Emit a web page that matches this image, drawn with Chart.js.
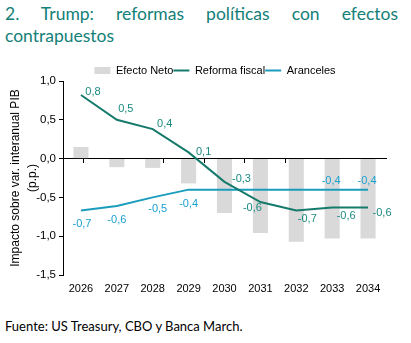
<!DOCTYPE html>
<html>
<head>
<meta charset="utf-8">
<script src="https://cdn.jsdelivr.net/npm/chart.js@4.4.1/dist/chart.umd.min.js"></script>
<style>
    body { margin: 0; width: 411px; height: 343px; background: #fff; position: relative; overflow: hidden; }
    #title { position: absolute; left: 5px; top: 3px; width: 393px; font-family: Lato, sans-serif; font-size: 17.5px; line-height: 22px; color: #138079; text-align: justify; }
    #chartBox { position: absolute; left: 0; top: 60px; width: 411px; height: 245px; }
    #source { position: absolute; left: 5px; top: 318px; font-family: Lato, sans-serif; font-size: 13px; color: #000; }
</style>
</head>
<body>
<div id="title">2. Trump: reformas políticas con efectos contrapuestos</div>
<div id="chartBox"><canvas id="chart" width="411" height="245"></canvas></div>
<div id="source">Fuente: US Treasury, CBO y Banca March.</div>
<script>
// Data
const years = ['2026', '2027', '2028', '2029', '2030', '2031', '2032', '2033', '2034'];
const efectoNeto = [0.15, -0.11, -0.12, -0.32, -0.70, -0.96, -1.07, -1.03, -1.03];
const reformaFiscal = [0.82, 0.50, 0.38, 0.08, -0.30, -0.56, -0.67, -0.63, -0.63];
const aranceles = [-0.67, -0.61, -0.50, -0.40, -0.40, -0.40, -0.40, -0.40, -0.40];
const yTicks = [1.0, 0.5, 0.0, -0.5, -1.0, -1.5];

const fmt = v => v.toFixed(1).replace('.', ',');

// Value labels next to the line points
const pointLabels = {
    id: 'pointLabels',
    afterDatasetsDraw(chart, args, opts) {
        const ctx = chart.ctx;
        ctx.save();
        ctx.font = '11px "Liberation Sans", Arial, sans-serif';
        ctx.textAlign = 'center';
        ctx.textBaseline = 'middle';
        opts.sets.forEach(set => {
            const meta = chart.getDatasetMeta(set.index);
            const data = chart.data.datasets[set.index].data;
            ctx.fillStyle = set.color;
            meta.data.forEach((pt, i) => {
                const off = set.offsets[i];
                if (!off) return;
                ctx.fillText(fmt(data[i]), pt.x + off[0], pt.y + off[1]);
            });
        });
        ctx.restore();
    }
};

// Nudge the legend a bit right and down, closer to the plot like the original
const legendShift = {
    id: 'legendShift',
    afterLayout(chart) {
        const lg = chart.legend;
        lg.left += 22; lg.right += 22;
        lg.top += 5; lg.bottom += 5;
    }
};

const ctx = document.getElementById('chart').getContext('2d');
new Chart(ctx, {
    data: {
        labels: years,
        datasets: [
            {
                type: 'bar',
                label: 'Efecto Neto',
                data: efectoNeto,
                backgroundColor: '#d9d9d9',
                barPercentage: 0.42,
                categoryPercentage: 1,
                order: 3
            },
            {
                type: 'line',
                label: 'Reforma fiscal',
                data: reformaFiscal,
                borderColor: '#157a6b',
                backgroundColor: '#157a6b',
                borderWidth: 2,
                pointRadius: 0,
                tension: 0,
                order: 1
            },
            {
                type: 'line',
                label: 'Aranceles',
                data: aranceles,
                borderColor: '#1a9cbd',
                backgroundColor: '#1a9cbd',
                borderWidth: 2,
                pointRadius: 0,
                tension: 0,
                order: 2
            }
        ]
    },
    options: {
        responsive: false,
        animation: false,
        layout: { padding: { left: 0, right: 25, top: 0, bottom: 0 } },
        plugins: {
            tooltip: { enabled: false },
            legend: {
                position: 'top',
                labels: {
                    usePointStyle: true,
                    pointStyleWidth: 16,
                    boxHeight: 7,
                    padding: 0,
                    color: '#000',
                    font: { family: '"Liberation Sans", Arial, sans-serif', size: 11 },
                    generateLabels(chart) {
                        return chart.data.datasets.map((ds, i) => ({
                            text: ds.label,
                            fillStyle: ds.backgroundColor,
                            strokeStyle: ds.type === 'bar' ? ds.backgroundColor : ds.borderColor,
                            lineWidth: ds.type === 'bar' ? 0 : 2,
                            pointStyle: ds.type === 'bar' ? 'rect' : 'line',
                            datasetIndex: i,
                            fontColor: '#000'
                        }));
                    }
                }
            },
            pointLabels: {
                sets: [
                    {
                        index: 1,
                        color: '#1a8a80',
                        offsets: [[12, -3], [9, -11], [12, -5], [15, 0], [17, -3], [-8, 6], [11, 8], [14, 8], [14, 5]]
                    },
                    {
                        index: 2,
                        color: '#1aa0d0',
                        offsets: [[1, 13], [0, 14], [5, 12], [0, 14], null, null, null, [-1, -9], [-1, -9]]
                    }
                ]
            }
        },
        scales: {
            x: {
                grid: { display: false, drawTicks: false },
                border: { display: false },
                ticks: { color: '#000', padding: 7, font: { family: '"Liberation Sans", Arial, sans-serif', size: 11 } },
                afterFit: s => { s.height = 30; }
            },
            x0: {
                type: 'category',
                position: { y: 0 },
                grid: { offset: true, drawOnChartArea: false, drawTicks: true, tickLength: 4, color: '#000' },
                border: { display: true, color: '#000', width: 1 },
                ticks: { display: false }
            },
            y: {
                min: -1.5,
                max: 1.0,
                afterBuildTicks: s => { s.ticks = yTicks.map(v => ({ value: v })); },
                grid: { drawOnChartArea: false, drawTicks: true, tickLength: 4, color: '#000' },
                border: { display: true, color: '#000', width: 1 },
                ticks: {
                    color: '#000',
                    padding: 3,
                    font: { family: '"Liberation Sans", Arial, sans-serif', size: 11.5 },
                    callback: v => fmt(v)
                },
                title: {
                    display: true,
                    text: ['Impacto sobre var. interanual PIB', '(p.p.)'],
                    color: '#000',
                    padding: { top: 7, bottom: 0 },
                    font: { family: '"Liberation Sans", Arial, sans-serif', size: 12, lineHeight: 1.4 }
                },
                afterFit: s => { s.width = 63; }
            }
        }
    },
    plugins: [pointLabels, legendShift]
});
</script>
</body>
</html>
